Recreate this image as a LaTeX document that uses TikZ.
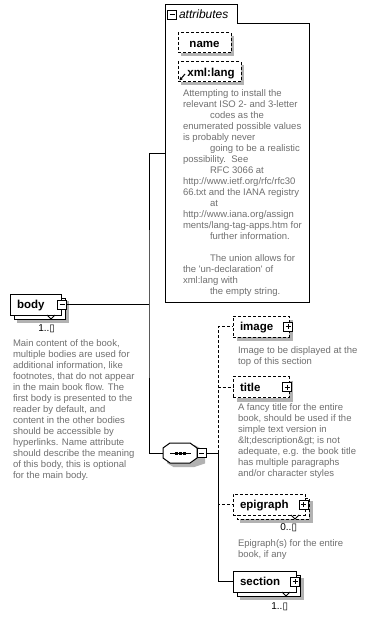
\documentclass[tikz,border=0pt]{standalone}
\usepackage{fontspec}
\setmainfont{Liberation Sans}
\newfontfamily\symfont{DejaVu Sans}
\usetikzlibrary{arrows.meta}

\definecolor{docgray}{RGB}{112,112,112}
\definecolor{dropgray}{RGB}{178,178,178}

\newcommand\docfont{\fontsize{9.5}{11}\selectfont}
\newcommand\firstline{\rule{0pt}{8pt}}
\newcommand\ind{\hspace*{27pt}}

% small notch under a repeating element
\newcommand\repnotch[1]{%
  \draw ([xshift=-14pt]#1.south east) -- ([shift={(-10pt,-4pt)}]#1.south east) -- ([xshift=-6pt]#1.south east);}

\tikzset{
  every node/.style={inner sep=0pt, outer sep=0pt},
  pmbox/.style={draw, fill=white, minimum size=9pt, inner sep=0pt, line width=0.8pt, solid},
  minusbox/.style={pmbox, path picture={
      \draw[line width=0.8pt] ([xshift=2pt]path picture bounding box.west) -- ([xshift=-2pt]path picture bounding box.east);}},
  plusbox/.style={pmbox, path picture={
      \draw[line width=0.8pt] ([xshift=2pt]path picture bounding box.west) -- ([xshift=-2pt]path picture bounding box.east);
      \draw[line width=0.8pt] ([yshift=-2pt]path picture bounding box.north) -- ([yshift=2pt]path picture bounding box.south);}},
  optional/.style={dash pattern=on 3pt off 2pt},
  band/.style={draw=dropgray, line width=#1, line cap=butt, line join=miter},
  band/.default=4pt,
  backframe/.style={draw, fill=white},
  labelfont/.style={font=\fontsize{11.5}{12}\selectfont\bfseries},
  elem/.style={draw, fill=white, anchor=north west, minimum height=21pt, inner xsep=7pt, inner ysep=0pt,
      text height=8.2pt, text depth=0pt, align=left, labelfont},
  attrbox/.style={draw, fill=white, optional, anchor=north west, minimum height=20pt,
      text height=8.2pt, text depth=0pt, labelfont},
  doc/.style={anchor=north west, inner sep=0pt, align=left, text=docgray, font=\docfont},
  mult/.style={anchor=north east, inner sep=0pt, font=\fontsize{10}{11}\selectfont},
}

\begin{document}
\begin{tikzpicture}[x=1pt, y=-1pt, line width=1pt]
\fill[white] (0,0) rectangle (368,617);
\useasboundingbox (0,0) rectangle (368,617);

% ---------- drop shadows (grey bands right of and below each box) ----------
\draw[band=3.5pt] (66.8,301) -- (66.8,320.8) -- (17,320.8);        % body
\draw[band=3pt]   (232.5,36) -- (232.5,54.5) -- (181,54.5);        % name
\draw[band=3pt]   (242.5,65) -- (242.5,83.5) -- (181,83.5);        % xml:lang
\draw[band]       (291,320) -- (291,339) -- (237,339);             % image
\draw[band]       (291,380.5) -- (291,399.5) -- (237,399.5);       % title
\draw[band=3.5pt] (310.8,501) -- (310.8,520.8) -- (240,520.8);     % epigraph
\draw[band=3.5pt] (301.8,578) -- (301.8,597.8) -- (240,597.8);     % section
\draw[band, fill=dropgray] (174,447) -- (194,447) -- (203,452) -- (203,462) -- (194,465)
  -- (174,465) -- (169,462) -- (169,452) -- cycle;                 % sequence

% ---------- back frames of repeating elements ----------
\path[backframe] (14,298) rectangle (65,319);
\path[backframe, optional] (237,498) rectangle (309,519);
\path[backframe] (237,575) rectangle (300,596);

% ---------- body element ----------
\node[elem, text width=37pt] (body) at (10,294) {body};
\node[minusbox] (bodypm) at ([xshift=1pt]body.east) {};
\repnotch{body}
\node[mult] (bodymult) at ([shift={(-6pt,-10pt)}]body.south east) {1..{\symfont ▯}};

\node[doc] (bodydoc) at (13,338.5) {\firstline Main content of the book,\\
multiple bodies are used for\\
additional information, like\\
footnotes, that do not appear\\
in the main book flow. The\\
first body is presented to the\\
reader by default, and\\
content in the other bodies\\
should be accessible by\\
hyperlinks. Name attribute\\
should describe the meaning\\
of this body, this is optional\\
for the main body.};

% ---------- attributes group ----------
\node[minimum width=144pt, minimum height=297pt, anchor=north west] (attrs) at (165,5) {};
\draw (attrs.south west) -- (attrs.north west) -- ([xshift=72pt]attrs.north west)
  -- ([shift={(72pt,-19pt)}]attrs.north west) -- ([yshift=-19pt]attrs.north east)
  -- (attrs.south east) -- cycle;
\node[minusbox] (attrspm) at (172,14.5) {};
\node[anchor=base west, font=\fontsize{12}{12}\selectfont\itshape] (attrstitle) at (179,18.5) {attributes};

\node[attrbox, minimum width=53pt] (name) at (178,33) {name};
\node[attrbox, minimum width=63pt] (xmllang) at (178,62) {\hspace*{3pt}xml:lang};
\draw[-{Stealth[length=3.5pt,width=3.5pt]}, line width=1pt]
  ([shift={(7pt,8pt)}]xmllang.south west) -- ([shift={(1.5pt,1.5pt)}]xmllang.south west);

\node[doc] (attrsdoc) at (183,88.5) {\firstline Attempting to install the\\
relevant ISO 2- and 3-letter\\
\ind codes as the\\
enumerated possible values\\
is probably never\\
\ind going to be a realistic\\
possibility.\ \ See\\
\ind RFC 3066 at\\
http://www.ietf.org/rfc/rfc30\\
66.txt and the IANA registry\\
\ind at\\
http://www.iana.org/assign\\
ments/lang-tag-apps.htm for\\
\ind further information.\\
\mbox{}\\
\ind The union allows for\\
the \textquotesingle un-declaration\textquotesingle\ of\\
xml:lang with\\
\ind the empty string.};

% ---------- sequence compositor ----------
\node[minimum width=34pt, minimum height=20pt, anchor=west] (seq) at (163,453) {};
\draw[fill=white]
    ([xshift=7pt]seq.north west) -- ([xshift=-7pt]seq.north east) -- ([yshift=-5pt]seq.north east)
    -- ([yshift=5pt]seq.south east) -- ([xshift=-7pt]seq.south east) -- ([xshift=7pt]seq.south west)
    -- ([yshift=5pt]seq.south west) -- ([yshift=-5pt]seq.north west) -- cycle;
\draw ([xshift=-10pt]seq.center) -- ([xshift=11pt]seq.center);
\foreach \dx in {-3.5,0.5,4.5}
  \fill ([shift={(\dx pt-1.5pt,-1.5pt)}]seq.center) rectangle ++(3,-3);
\node[minusbox, anchor=west] (seqpm) at (seq.east) {};

% ---------- child elements ----------
\node[elem, optional, text width=42pt] (image) at (233,316) {image};
\node[plusbox] (imagepm) at ([xshift=-1pt]image.east) {};
\node[doc] (imagedoc) at (238,345.5) {\firstline Image to be displayed at the\\
top of this section};

\node[elem, optional, text width=42pt] (title) at (233,376.5) {title};
\node[plusbox] (titlepm) at ([xshift=-2pt]title.east) {};
\node[doc] (titledoc) at (238,402.5) {\firstline A fancy title for the entire\\
book, should be used if the\\
simple text version in\\
\&lt;description\&gt; is not\\
adequate, e.g. the book title\\
has multiple paragraphs\\
and/or character styles};

\node[elem, optional, text width=58pt] (epigraph) at (233,494) {epigraph};
\node[plusbox] (epigraphpm) at ([xshift=-1.5pt]epigraph.east) {};
\repnotch{epigraph}
\node[mult] (epigraphmult) at ([shift={(-8pt,-9pt)}]epigraph.south east) {0..{\symfont ▯}};
\node[doc] (epigraphdoc) at (238,538.5) {\firstline Epigraph(s) for the entire\\
book, if any};

\node[elem, text width=49pt] (section) at (233,571) {section};
\node[plusbox] (sectionpm) at ([xshift=-1pt]section.east) {};
\repnotch{section}
\node[mult] (sectionmult) at ([shift={(-8pt,-11pt)}]section.south east) {1..{\symfont ▯}};

% ---------- connectors ----------
\coordinate (j1) at (149,304.5);
\coordinate (j2) at (218.5,453);
\draw (bodypm.east) -- (j1);
\draw (attrs.west) -| (j1) |- (seq.west);
\draw (seqpm.east) -- (j2);
\draw[optional] (j2) |- (image.west);
\draw[optional] (j2) |- (title.west);
\draw[optional] (j2) |- (epigraph.west);
\draw (j2) |- (section.west);
\end{tikzpicture}
\end{document}
